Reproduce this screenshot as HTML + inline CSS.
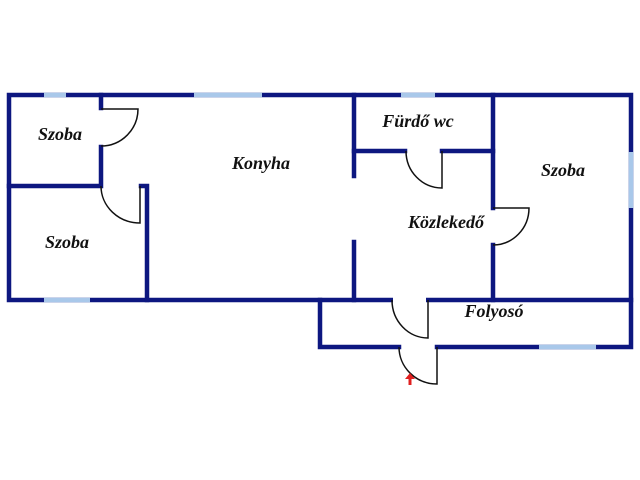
<!DOCTYPE html>
<html><head><meta charset="utf-8"><style>
html,body{margin:0;padding:0;background:#fff;}
svg{display:block}
text{font-family:"Liberation Serif",serif;font-weight:bold;font-style:italic;font-size:18px;fill:#111;text-anchor:middle}
</style></head><body>
<svg width="640" height="480" viewBox="0 0 640 480">
<g stroke="#0d1780" stroke-width="4.5" fill="none" stroke-linecap="square">
<path d="M9 95 H631 V300 H9 Z"/>
<path d="M101 95 V108 M101 147 V186 H9"/>
<path d="M147 300 V186 H141"/>
<path d="M354 95 V176 M354 242 V300"/>
<path d="M354 151 H405 M442 151 H493"/>
<path d="M493 95 V208 M493 245 V300"/>
<path d="M320 300 V347 H399 M437 347 H631 V300"/>
</g>
<g stroke="#fff" stroke-width="6">
<line x1="393" y1="300" x2="426" y2="300"/>
</g>
<g stroke="#a9c8ea" stroke-width="4.5">
<line x1="44" y1="95" x2="66" y2="95"/>
<line x1="194" y1="95" x2="262" y2="95"/>
<line x1="401" y1="95" x2="435" y2="95"/>
<line x1="44" y1="300" x2="90" y2="300"/>
<line x1="631" y1="152" x2="631" y2="208"/>
<line x1="539" y1="347" x2="596" y2="347"/>
</g>
<g stroke="#111" stroke-width="1.5" fill="none">
<path d="M101 109 H138 A37 37 0 0 1 101 146"/>
<path d="M140 186 V223 A39 37 0 0 1 101 186"/>
<path d="M442 151 V188 A36 37 0 0 1 406 151"/>
<path d="M493 208 H529 A36 37 0 0 1 493 245"/>
<path d="M428 300 V338 A36 38 0 0 1 392 300"/>
<path d="M437 347 V384 A38 37 0 0 1 399 347"/>
</g>
<path d="M410 373 L405 379 H408.5 V385 H411.5 V379 H415 Z" fill="#e02020"/>
<text x="60" y="140">Szoba</text>
<text x="261" y="169">Konyha</text>
<text x="67" y="248">Szoba</text>
<text x="418" y="127">Fürdő wc</text>
<text x="563" y="176">Szoba</text>
<text x="446" y="228">Közlekedő</text>
<text x="494" y="317">Folyosó</text>
</svg>
</body></html>
